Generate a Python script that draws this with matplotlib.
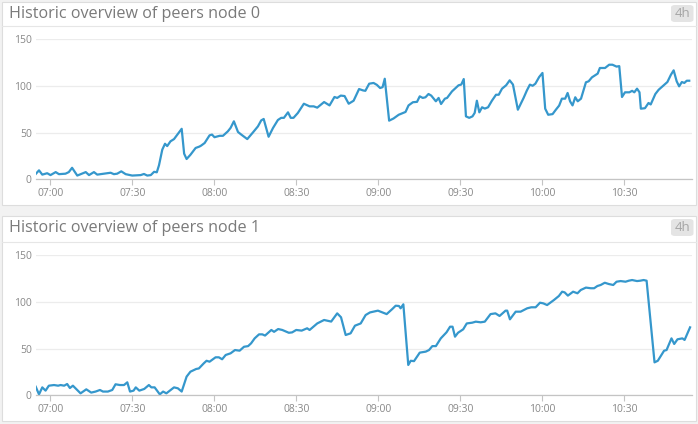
import matplotlib
matplotlib.use("Agg")

import pandas as pd
import matplotlib.pyplot as plt
import matplotlib.dates as mdates
from matplotlib.patches import Rectangle, FancyBboxPatch
from matplotlib.lines import Line2D

# -------------------------------
# DATA (minutes after 07:00, peers)
# -------------------------------
titles = ["Historic overview of peers node 0", "Historic overview of peers node 1"]
range_label = "4h"
y_ticks = [0, 50, 100, 150]

node0_min = [-5.3, -4.1, -2.9, -1.1, 0.1, 2, 3.2, 5.6, 6.8, 8, 9.9, 13, 14.2, 16, 17.2, 19.6,
             22.1, 23.3, 24.5, 26, 27.6, 30, 33.1, 34.3, 35.5, 36.8, 38, 39, 39.8, 41, 42, 42.8,
             44, 45.3, 48.1, 49, 49.9, 51.3, 53.2, 54.6, 55.2, 56.5, 58.3, 59.2, 60.1, 62, 63.2,
             65, 66, 67.2, 68.7, 69.9, 72.1, 74.2, 76, 77.2, 78.1, 79.9, 81.5, 83.3, 84.5, 85.5,
             87, 88, 89, 90.6, 92.8, 94.9, 96.4, 97.7, 100.2, 102.2, 104, 105, 106.3, 107.7,
             109.2, 111, 113, 114.5, 115.3, 116.7, 118.3, 119.5, 120.7, 121.6, 122.4, 124,
             125.6, 127.5, 130, 131.1, 132.7, 134.2, 135.2, 136.3, 137.3, 138.4, 139.4, 141.1,
             142.1, 143, 144.4, 145.2, 147, 149.4, 150.4, 151.3, 152.1, 153.3, 154.5, 155.3,
             156.1, 157, 158, 159, 160.2, 161.6, 163.1, 164.1, 165.3, 166.8, 168.1, 169.3,
             171.1, 173.2, 174.4, 175.5, 176.5, 177.5, 178.9, 180.1, 181.1, 182.2, 183.8, 185,
             186.2, 187.2, 188.4, 189.3, 190.2, 191.1, 192.1, 193, 194.2, 196, 197, 198.2,
             200.3, 201.1, 203, 204.5, 205.7, 207.2, 208.2, 209.2, 210.3, 211.9, 212.9, 213.7,
             214.7, 215.6, 216.1, 217.6, 218.9, 219.7, 221.4, 222.6, 224, 225.8, 227.1, 228.1,
             229.2, 230.1, 231.1, 232, 232.9, 233.8]
node0_val = [5.7, 9.6, 5, 6.5, 4.5, 7.7, 5.5, 6, 7.7, 12.3, 4, 7.7, 4.5, 7.7, 5, 6,
             7, 5.5, 6, 8.5, 5.5, 4, 4.5, 5.7, 4, 4.5, 8, 7.5, 15, 31.7, 38, 35.5,
             40.6, 43, 54, 27.4, 21.7, 26.2, 33.5, 35, 36, 38.8, 47, 47.8, 45, 46.5, 46.5,
             51.3, 55, 62, 50.6, 47.8, 43, 50.2, 56.6, 63, 64.5, 45.5, 54.8, 63.4, 65.7, 65.7,
             71.6, 65.7, 65.7, 70.9, 80.8, 78, 78, 76.6, 82.6, 79, 88, 87, 89.5, 89,
             80.8, 84, 96.5, 95, 94.6, 102.2, 103, 101, 97.6, 98.5, 107.5, 62.7,
             65, 69, 72, 79, 82.4, 82.8, 88.7, 87, 87.7, 91.2, 89.5, 83.4,
             87, 80.5, 86.2, 87, 94, 100.5, 101.3, 107.2, 67.3, 65.7, 67.3, 71,
             84, 71.6, 77, 75.6, 77, 84, 90.4, 90.4, 96.9, 100.5, 105.8, 101.3,
             74.4, 87, 95, 101.2, 100, 102.2, 109.4, 113.7, 75.5, 69, 69.7, 74.4,
             78.8, 86.2, 86.2, 92.3, 83.4, 79, 87.7, 83.4, 86.2, 103.7, 104.8, 109,
             113, 119, 119, 122.5, 122.5, 120.5, 121, 88, 93, 93, 94.6, 93,
             96.9, 93, 75.5, 76, 81.6, 80, 91.2, 95.7, 99.4, 104, 111.8, 116.5,
             104.8, 99.4, 104, 103, 105.4, 105.4]

node1_min = [-5.3, -4.1, -2.9, -1.7, -0.5, 1.4, 2.9, 3.8, 5.1, 6.2, 7.2, 8.3, 11.1, 13.2, 15,
             16.6, 18.2, 19.3, 21.1, 22.7, 23.9, 25.5, 27, 28.2, 29.2, 30.5, 31.3, 32.6, 34.4,
             36.1, 37, 38.2, 40.1, 41.3, 42.5, 45.3, 46.7, 48.1, 49.9, 51.3, 53.4, 54.4, 56.2,
             57.2, 58.3, 60.5, 61.7, 62.9, 64.2, 66, 67.6, 69.3, 70.9, 72.4, 73.5, 74.8, 76.4,
             77.6, 78.6, 80.9, 81.9, 83.4, 84.9, 87.3, 88.5, 90, 92, 94, 94.9, 97.7, 100.2,
             102.8, 105, 106.4, 108.1, 109.9, 111.5, 113.6, 115.4, 117, 119.9, 123.1, 125.1,
             126.4, 127.6, 128.2, 129.2, 131, 131.9, 133.1, 135.2, 137.4, 138.6, 139.8, 141.1,
             142.9, 145, 146.3, 147.2, 148.1, 149.2, 151.1, 152.4, 154.4, 155.7, 157.5, 159,
             161.1, 162.9, 164.4, 166.6, 167.2, 168.2, 170.3, 172.1, 174.5, 176, 177.6, 179.2,
             180.4, 181.8, 184.3, 186.1, 187.3, 188.2, 189.4, 191.3, 192.9, 194.1, 196, 197.8,
             199, 200.2, 201.4, 202.9, 204.4, 206, 207.2, 208.7, 210.5, 211.7, 212.9, 214.7,
             215.9, 217.1, 218.2, 221.1, 222.3, 224.6, 225.5, 227.3, 228.3, 229.5, 231.3,
             232.1, 234.1]
node1_val = [9.2, 1, 8.5, 5, 10.3, 11, 10.3, 11, 10.3, 12.1, 7.8, 10.3, 2.1, 6.4, 2.9,
             4, 5.7, 4, 4, 5.7, 11.8, 11, 11, 13.9, 4, 5, 8.5, 5, 6.8,
             11, 8.5, 8.5, 1, 4, 2.1, 8.5, 7.5, 4, 20, 25.3, 28.2, 28.8, 34.3,
             37, 36, 40.7, 40.7, 38.6, 43.2, 45, 48.5, 47.8, 52, 52.7, 55.7, 61, 65.3,
             65.3, 64, 70, 68, 71, 70, 67, 67.4, 70, 69.3, 71.8, 70, 77, 80.7,
             79, 87.8, 83.6, 64.6, 66.4, 74.6, 77, 86, 88.8, 90.7, 87, 92.3,
             96, 95.7, 93.2, 97.5, 32.5, 37, 36.6, 45.7, 46.8, 48.5, 52.7, 52.7,
             61, 67.5, 73.5, 73.5, 62.8, 67, 70.7, 77, 77.8, 78.9, 78.2, 78.9,
             87, 87.8, 85, 90.7, 90.7, 81.4, 89.6, 89.6, 93.2, 94.3, 94.3, 99.2,
             98.5, 96.7, 102.1, 106.4, 111, 110.3, 106.8, 111, 109.3, 112.8, 115.4, 114.7,
             114.7, 117.1, 118.2, 120.6, 119.2, 118.2, 121.7, 122.4, 121.7, 122.8, 123.5, 122.4,
             122.8, 123.5, 122.8, 35.3, 37, 47.8, 48.5, 61, 55, 60, 61,
             59.3, 72.8]

series_min = [node0_min, node1_min]
series_val = [node0_val, node1_val]

# -------------------------------
# STYLE
# -------------------------------
W, H = 698, 424
LINE_COLOR = "#3597cc"
TEXT_GRAY = "#888888"
TITLE_GRAY = "#7a7a7a"
plt.rcParams["font.family"] = ["Open Sans", "DejaVu Sans"]

base = pd.Timestamp("2024-01-01 07:00")


def to_time(mins):
    return base + pd.to_timedelta(mins, unit="min")


def fig_box(x0, y0, x1, y1):
    # pixel box (top-left origin) -> figure fraction [l, b, w, h]
    return [x0 / W, 1 - y1 / H, (x1 - x0) / W, (y1 - y0) / H]


fig = plt.figure(figsize=(W / 100, H / 100), dpi=100)
fig.patch.set_facecolor("#f2f2f2")

# panel geometry in pixels: (panel top, panel bottom, header line, y=0 px, y=150 px)
panels = [(2, 205, 25.5, 179.3, 39.0), (216, 421, 241.5, 395.3, 255.3)]

for i, (top, bot, hline, y0px, y150px) in enumerate(panels):
    # white card (drawn behind the axes)
    l, b, w, h = fig_box(2, top, 696, bot)
    fig.add_artist(Rectangle((l, b), w, h, transform=fig.transFigure, zorder=-10,
                             facecolor="white", edgecolor="#dddddd", linewidth=0.8))
    fig.add_artist(Line2D([2 / W, 696 / W], [1 - hline / H] * 2, transform=fig.transFigure,
                          color="#e6e6e6", linewidth=0.8, zorder=-9))
    fig.text(9 / W, 1 - (top + 12) / H, titles[i], fontsize=11.6, color=TITLE_GRAY,
             va="center", ha="left")

    # "4h" badge
    bl, bb, bw, bh = fig_box(671, top + 3, 693.5, top + 20)
    fig.add_artist(FancyBboxPatch((bl, bb), bw, bh, transform=fig.transFigure, zorder=-8,
                                  boxstyle="round,pad=0,rounding_size=0.006",
                                  facecolor="#e4e4e4", edgecolor="none"))
    fig.text(bl + bw / 2, bb + bh / 2, range_label, fontsize=9.5, color="#a5a5a5",
             ha="center", va="center")

    # chart
    ax = fig.add_axes(fig_box(36, y150px, 691.7, y0px))
    ax.set_facecolor("none")
    ax.plot(to_time(series_min[i]), series_val[i], color=LINE_COLOR, linewidth=1.6,
            solid_joinstyle="round")

    ax.set_ylim(0, 150)
    ax.set_yticks(y_ticks)
    ax.set_xlim(to_time(-5.2), to_time(234.7))
    ax.xaxis.set_major_locator(mdates.MinuteLocator(byminute=[0, 30]))
    ax.xaxis.set_major_formatter(mdates.DateFormatter("%H:%M"))

    ax.grid(axis="y", color="#ececec", linewidth=0.9)
    ax.set_axisbelow(True)
    for side in ["top", "right", "left"]:
        ax.spines[side].set_visible(False)
    ax.spines["bottom"].set_color("#c4c4c4")
    ax.spines["bottom"].set_linewidth(0.9)
    ax.tick_params(axis="x", length=4, width=0.8, color="#c4c4c4", pad=2,
                   labelsize=7.5, labelcolor=TEXT_GRAY)
    ax.tick_params(axis="y", length=0, pad=3, labelsize=7.5, labelcolor=TEXT_GRAY)

plt.savefig("out.png", dpi=100, facecolor=fig.get_facecolor())
